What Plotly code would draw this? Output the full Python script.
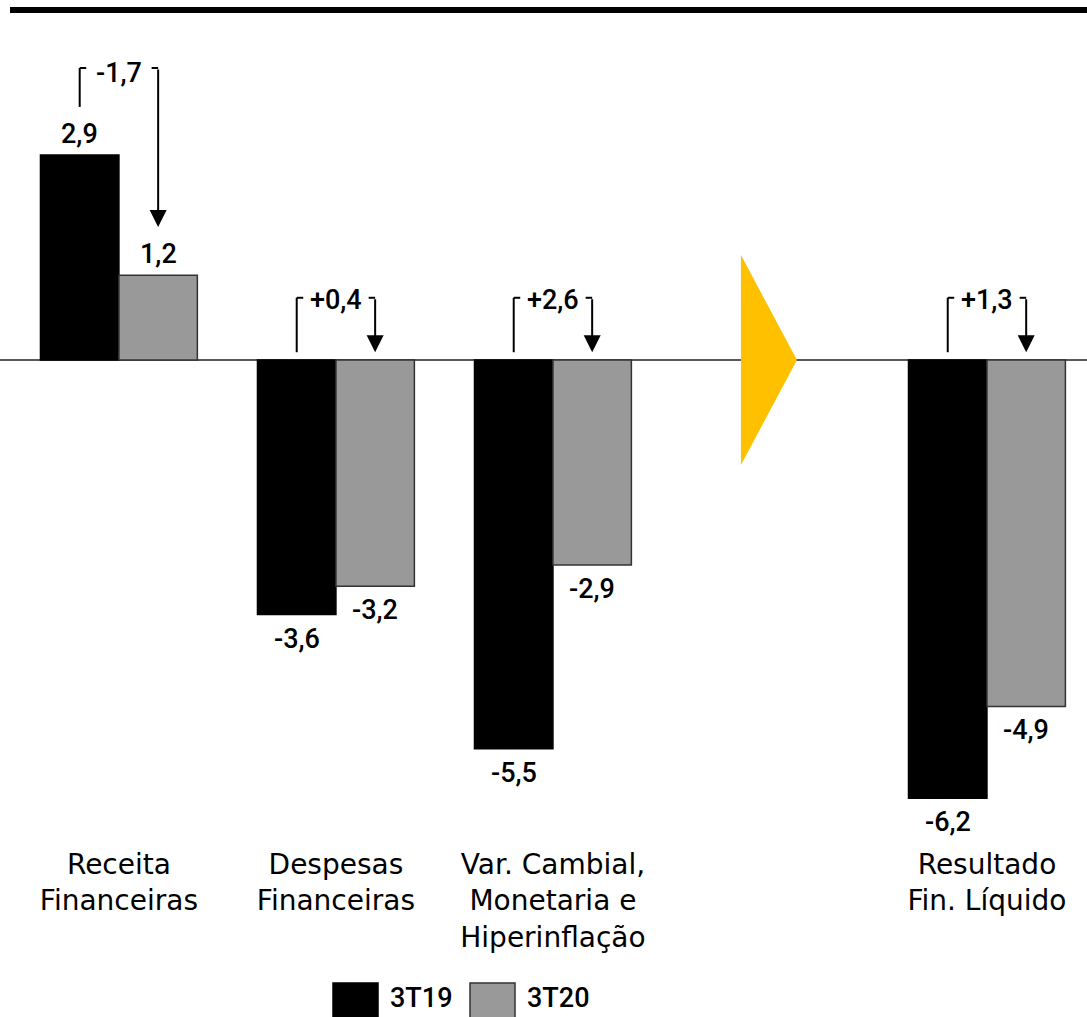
import plotly.graph_objects as go

# ---------------- data ----------------
categories = ["Receita<br>Financeiras", "Despesas<br>Financeiras",
              "Var. Cambial,<br>Monetaria e<br>Hiperinflação", "",
              "Resultado<br>Fin. Líquido"]
series_names = ["3T19", "3T20"]
values_3t19 = [2.9, -3.6, -5.5, None, -6.2]
values_3t20 = [1.2, -3.2, -2.9, None, -4.9]
arrow_index = 3  # empty slot that holds the yellow "result" arrow

# ---------------- style ----------------
W, H = 1087, 1017
MT, MB = 20, 172
NUM_FONT = dict(family="Roboto", size=27, color="black", weight=500)
CAT_FONT = dict(family="DejaVu Sans", size=28, color="black")
BLACK = "#000000"
GRAY = "#999999"
YELLOW = "#FFC000"
BARGAP = 0.277
HALF = (1 - BARGAP) / 4  # offset of each bar centre from the group centre

x = list(range(len(categories)))
x_range = [-0.548, 4.461]
y_range = [-6.86, 4.809]


def fmt(v, sign=False):
    s = f"{abs(v):.1f}".replace(".", ",")
    if v < 0:
        return "-" + s
    return ("+" + s) if sign else s


def px_x(p):
    return p / W


def px_y(p):
    return (H - MB - p) / (H - MT - MB)


fig = go.Figure()
shapes = []
annotations = []

for k, (name, vals, col, lc) in enumerate([(series_names[0], values_3t19, BLACK, BLACK),
                                           (series_names[1], values_3t20, GRAY, "#333333")]):
    fig.add_trace(go.Bar(
        x=x, y=vals, name=name,
        marker=dict(color=col, line=dict(color=lc, width=1.5)),
        showlegend=False, cliponaxis=False,
    ))
    off = -HALF if k == 0 else HALF
    for i, v in enumerate(vals):
        if v is None:
            continue
        annotations.append(dict(x=i + off, y=v, xref="x", yref="y", text=fmt(v),
                                showarrow=False, yanchor="middle",
                                yshift=21 if v > 0 else -24, font=NUM_FONT))

# zero line
shapes.append(dict(type="line", xref="paper", x0=0, x1=1, yref="y", y0=0, y1=0,
                   line=dict(color="#222222", width=1.5), layer="below"))
# top rule
shapes.append(dict(type="line", xref="paper", x0=px_x(10), x1=1, yref="paper",
                   y0=px_y(10), y1=px_y(10), line=dict(color="black", width=6)))

# variation brackets
for i, (a, b) in enumerate(zip(values_3t19, values_3t20)):
    if a is None or b is None:
        continue
    delta = round(b - a, 1)
    xl, xr = i - HALF, i + HALF
    left_start = a + 0.68 if a > 0 else 0.11
    right_end = b + 0.68 if b > 0 else 0.11
    top = max(left_start + 0.55, 0.88)
    tick = 0.03
    shapes.append(dict(type="line", xref="x", yref="y", x0=xl, x1=xl, y0=left_start, y1=top,
                       line=dict(color="black", width=2)))
    shapes.append(dict(type="line", xref="x", yref="y", x0=xl, x1=xl + tick, y0=top, y1=top,
                       line=dict(color="black", width=2)))
    shapes.append(dict(type="line", xref="x", yref="y", x0=xr - tick, x1=xr, y0=top, y1=top,
                       line=dict(color="black", width=2)))
    annotations.append(dict(x=xr, y=right_end, ax=xr, ay=top, axref="x", ayref="y",
                            xref="x", yref="y", text="", showarrow=True,
                            arrowhead=2, arrowsize=1.7, arrowwidth=2, arrowcolor="black"))
    annotations.append(dict(x=i, y=top, xref="x", yref="y", text=fmt(delta, sign=True),
                            showarrow=False, yanchor="middle",
                            yshift=-5 if a > 0 else -2, font=NUM_FONT))

# yellow arrow (triangle) in the empty slot
tx0 = arrow_index - 29 / 217
tx1 = arrow_index + 27 / 217
ty = 1.485
shapes.append(dict(type="path", xref="x", yref="y",
                   path=f"M {tx0},{ty} L {tx1},0 L {tx0},{-ty} Z",
                   fillcolor=YELLOW, line=dict(width=0), layer="above"))

# manual legend
leg = [(series_names[0], BLACK, BLACK, 333, 389), (series_names[1], GRAY, "#333333", 470, 526)]
for name, col, lc, sx, tx in leg:
    shapes.append(dict(type="rect", xref="paper", yref="paper",
                       x0=px_x(sx), x1=px_x(sx + 45), y0=px_y(983), y1=px_y(1030),
                       fillcolor=col, line=dict(color=lc, width=1.5)))
    annotations.append(dict(x=px_x(tx), y=px_y(998), xref="paper", yref="paper",
                            text=name, showarrow=False, xanchor="left", yanchor="middle",
                            xshift=-1, font=NUM_FONT))

fig.update_layout(
    width=W, height=H,
    margin=dict(l=0, r=0, t=MT, b=MB, pad=0),
    paper_bgcolor="white", plot_bgcolor="white",
    barmode="group", bargap=BARGAP, bargroupgap=0,
    font=CAT_FONT,
    xaxis=dict(range=x_range, tickvals=x, ticktext=categories, showgrid=False,
               zeroline=False, showline=False, ticks="", tickfont=CAT_FONT),
    yaxis=dict(range=y_range, visible=False, showgrid=False, zeroline=False),
    shapes=shapes, annotations=annotations,
)

fig.write_html("out.html", config={"displayModeBar": False},
               post_script="document.body.style.margin='0';")
